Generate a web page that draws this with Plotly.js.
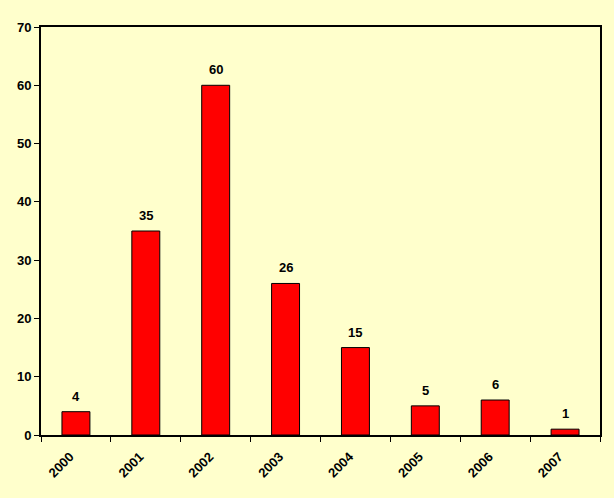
<!DOCTYPE html>
<html>
<head>
<meta charset="utf-8">
<script src="https://cdn.plot.ly/plotly-3.0.1.min.js"></script>
<style>html,body{margin:0;padding:0;background:#FFFFCC;}</style>
</head>
<body>
<div id="chart" style="width:614px;height:498px;"></div>
<script>
const years = ['2000','2001','2002','2003','2004','2005','2006','2007'];
const counts = [4, 35, 60, 26, 15, 5, 6, 1];
const yTicks = [0, 10, 20, 30, 40, 50, 60, 70];

const font = {family: 'Liberation Sans, Arial, sans-serif', size: 13, color: '#000', weight: 'bold'};

const trace = {
  type: 'bar',
  x: years,
  y: counts,
  width: 0.4,
  marker: {color: '#FF0000', line: {color: '#000', width: 1}},
  hoverinfo: 'none'
};

const annotations = counts.map((c, i) => ({
  x: i, y: c, xref: 'x', yref: 'y',
  text: String(c),
  showarrow: false, yanchor: 'bottom', yshift: 6,
  font: font
}));

const layout = {
  width: 614, height: 498,
  paper_bgcolor: '#FFFFCC', plot_bgcolor: '#FFFFCC',
  margin: {l: 41, r: 14, t: 27, b: 63},
  showlegend: false,
  font: font,
  xaxis: {
    type: 'category',
    range: [-0.5, 7.5],
    showline: true, linecolor: '#000', linewidth: 2, mirror: true,
    ticks: 'outside', tickson: 'boundaries', ticklen: 5, tickcolor: '#000', tickwidth: 1,
    tickangle: -45,
    ticklabelstandoff: 7, ticklabelshift: -6,
    showgrid: false, zeroline: false,
    tickfont: font
  },
  yaxis: {
    range: [0, 70],
    tickvals: yTicks,
    showline: true, linecolor: '#000', linewidth: 2, mirror: true,
    ticks: 'outside', ticklen: 5, tickcolor: '#000', tickwidth: 1,
    showgrid: false, zeroline: false,
    tickfont: font
  },
  annotations: annotations
};

Plotly.newPlot('chart', [trace], layout, {staticPlot: true});
</script>
</body>
</html>
